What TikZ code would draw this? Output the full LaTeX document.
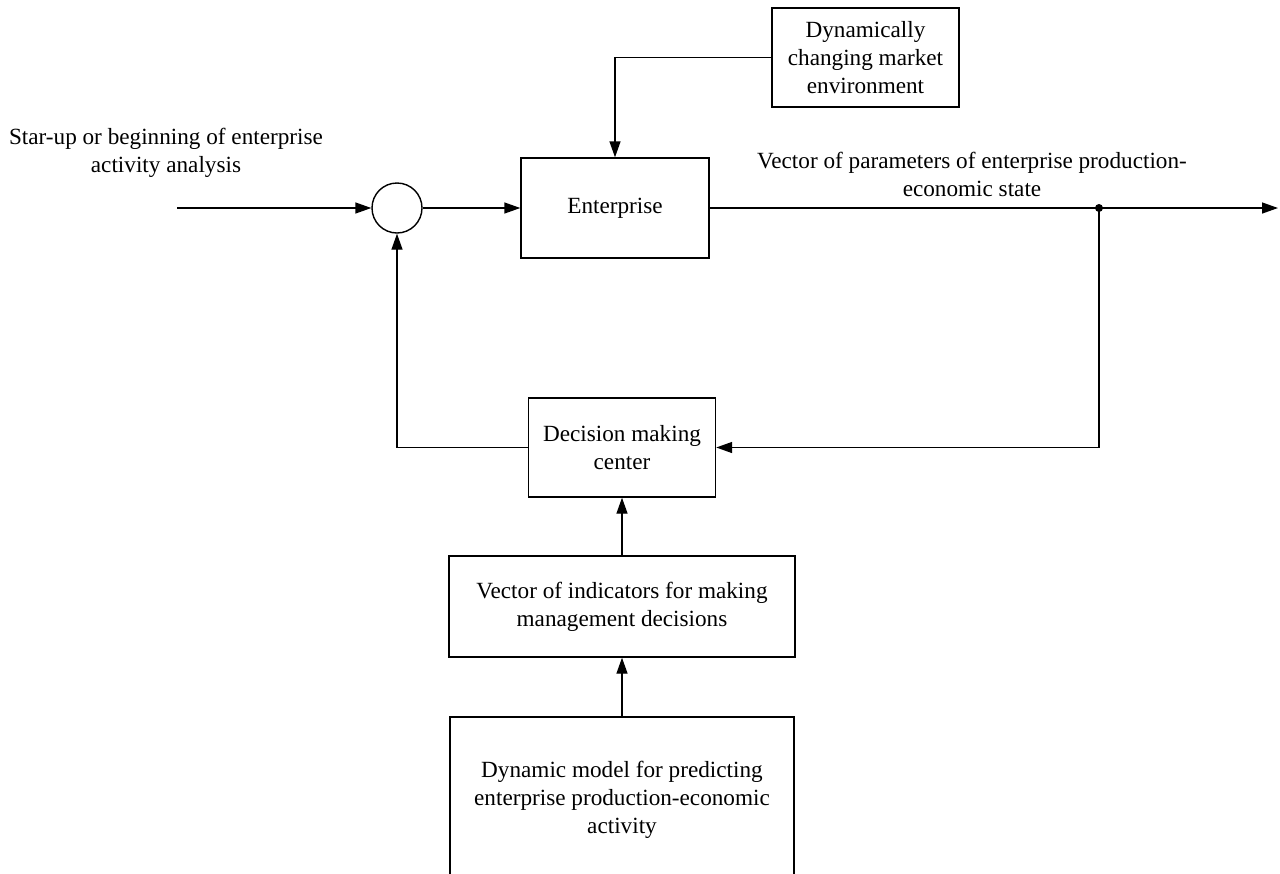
\documentclass[tikz,border=0pt]{standalone}
\usepackage{fontspec}
\setmainfont{Liberation Serif}
\usetikzlibrary{arrows.meta}

\begin{document}
\begin{tikzpicture}
    \tikzset{x={(0.5pt,0pt)}, y={(0pt,-0.5pt)}}
    \tikzset{block/.style={draw, line width=0.7pt, align=center, font=\fontsize{11.6pt}{14pt}\selectfont},
             flow/.style={line width=0.7pt, -{Triangle[length=8pt,width=5.5pt]}},
             label/.style={align=center, font=\fontsize{11.6pt}{14pt}\selectfont}}
    \clip (0,0) rectangle (1280,873);
    % blocks
    \node[block, minimum width=93.5pt, minimum height=49.5pt] (market) at (865.5,57.5) {Dynamically\\changing market\\environment};
    \node[block, minimum width=94pt, minimum height=50pt] (enterprise) at (615,208) {Enterprise};
    \node[draw, circle, line width=0.7pt, minimum size=25pt, inner sep=0pt] (sum) at (397,208) {};
    \node[block, minimum width=93.5pt, minimum height=49.5pt] (decision) at (622,447.5) {Decision making\\center};
    \node[block, minimum width=173pt, minimum height=50.5pt] (indicators) at (622,606.5) {Vector of indicators for making\\management decisions};
    \node[block, minimum width=172pt, minimum height=83pt] (model) at (622,800) {Dynamic model for predicting\\enterprise production-economic\\activity};
    % labels
    \node[label] (inlabel) at (166,153) {Star-up or beginning of enterprise\\activity analysis};
    \node[label] (outlabel) at (972,174) {Vector of parameters of enterprise production-\\economic state};
    % connectors
    \coordinate (start) at (177,208);
    \coordinate (tap) at (1099,208);
    \coordinate (out) at (1278,208);
    \draw[flow] (start) -- (sum.west);
    \draw[flow] (sum.east) -- (enterprise.west);
    \draw[flow] (market.west) -| (enterprise.north);
    \draw[flow] (enterprise.east) -- (out);
    \fill (tap) circle (2pt);
    \draw[flow] (tap) |- (decision.east);
    \draw[flow] (decision.west) -| (sum.south);
    \draw[flow] (indicators.north) -- (decision.south);
    \draw[flow] (model.north) -- (indicators.south);
\end{tikzpicture}
\end{document}
